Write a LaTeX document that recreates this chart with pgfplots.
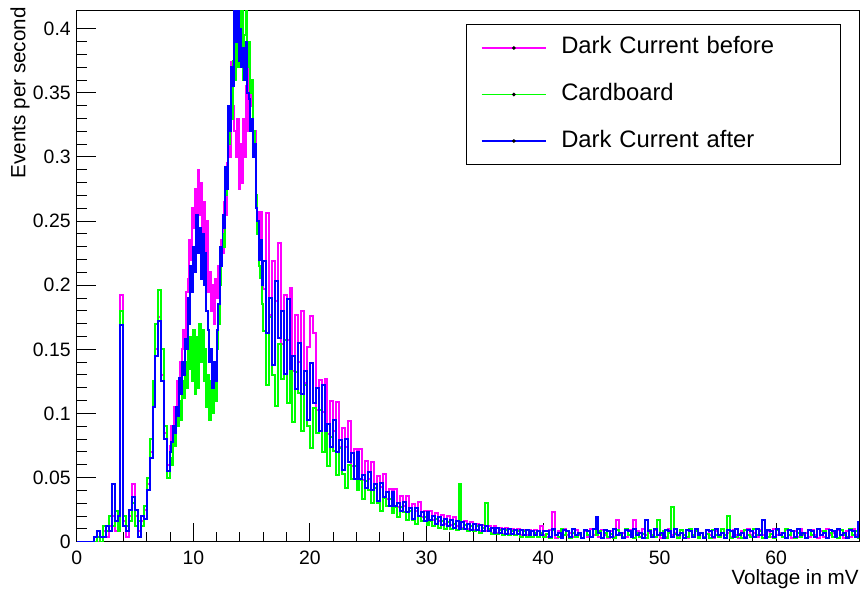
\documentclass[border=0pt]{standalone}
\usepackage{fontspec}
\setmainfont{Liberation Sans}
\usepackage{pgfplots}
\pgfplotsset{compat=1.18}
\usepackage{pgfplotstable}

\definecolor{rootmag}{RGB}{255,0,255}
\definecolor{rootgreen}{RGB}{0,255,0}
\definecolor{rootblue}{RGB}{0,0,255}

% bin left edge (mV), events per second for the three runs
\pgfplotstableread{
x      before card  after
0.00   0     0     0
0.25   0     0     0
0.50   0     0     0
0.75   0     0     0
1.00   0     0     0
1.25   0     0     0
1.50   0     0     0.004
1.75   0     0.004 0.008
2.00   0.004 0     0.004
2.25   0.008 0.012 0.004
2.50   0.004 0.008 0.012
2.75   0.012 0.020 0.008
3.00   0.020 0.012 0.045
3.25   0.008 0.024 0.016
3.50   0.012 0.008 0.020
3.75   0.192 0.180 0.169
4.00   0.016 0.020 0.012
4.25   0.004 0.012 0.008
4.50   0.020 0.016 0.025
4.75   0.045 0.030 0.035
5.00   0.020 0.012 0.025
5.25   0.008 0.016 0.004
5.50   0.016 0.012 0.020
5.75   0.025 0.028 0.018
6.00   0.045 0.050 0.040
6.25   0.070 0.080 0.065
6.50   0.110 0.125 0.105
6.75   0.150 0.170 0.145
7.00   0.175 0.196 0.172
7.25   0.130 0.150 0.125
7.50   0.085 0.090 0.080
7.75   0.060 0.050 0.055
8.000  0.075 0.065 0.070
8.125  0.090 0.060 0.078
8.250  0.085 0.085 0.090
8.375  0.105 0.075 0.085
8.500  0.098 0.100 0.105
8.625  0.125 0.090 0.098
8.750  0.120 0.110 0.128
8.875  0.140 0.095 0.115
9.000  0.150 0.125 0.140
9.125  0.165 0.112 0.130
9.250  0.155 0.140 0.158
9.375  0.195 0.120 0.150
9.500  0.205 0.150 0.190
9.625  0.235 0.135 0.170
9.750  0.220 0.160 0.215
9.875  0.260 0.125 0.195
10.000 0.245 0.165 0.230
10.125 0.275 0.115 0.210
10.250 0.230 0.160 0.255
10.375 0.290 0.120 0.225
10.500 0.255 0.170 0.245
10.625 0.280 0.140 0.205
10.750 0.235 0.165 0.240
10.875 0.265 0.125 0.200
11.000 0.220 0.150 0.225
11.125 0.250 0.105 0.180
11.250 0.195 0.130 0.165
11.375 0.210 0.095 0.140
11.500 0.180 0.125 0.150
11.625 0.200 0.100 0.120
11.750 0.170 0.135 0.140
11.875 0.205 0.110 0.125
12.000 0.190 0.150 0.165
12.125 0.215 0.170 0.185
12.250 0.200 0.200 0.230
12.375 0.235 0.215 0.215
12.500 0.225 0.240 0.255
12.625 0.265 0.230 0.245
12.750 0.255 0.270 0.292
12.875 0.295 0.285 0.275
13.000 0.320 0.310 0.340
13.125 0.300 0.340 0.320
13.250 0.374 0.330 0.370
13.375 0.340 0.375 0.355
13.500 0.320 0.360 0.414
13.625 0.300 0.395 0.390
13.750 0.330 0.370 0.414
13.875 0.275 0.400 0.375
14.000 0.310 0.380 0.400
14.125 0.280 0.414 0.370
14.250 0.330 0.360 0.385
14.375 0.300 0.395 0.360
14.500 0.355 0.414 0.390
14.625 0.320 0.370 0.350
14.750 0.371 0.390 0.345
14.875 0.340 0.350 0.320
15.000 0.360 0.360 0.330
15.125 0.300 0.320 0.300
15.250 0.320 0.300 0.310
15.375 0.270 0.270 0.260
15.500 0.257 0.240 0.250
15.625 0.230 0.215 0.220
15.750 0.257 0.206 0.235
15.875 0.215 0.185 0.200
16.00  0.197 0.164 0.219
16.25  0.256 0.122 0.163
16.50  0.177 0.175 0.190
16.75  0.219 0.130 0.138
17.00  0.188 0.106 0.203
17.25  0.233 0.154 0.159
17.50  0.154 0.127 0.180
17.75  0.192 0.157 0.131
18.00  0.157 0.108 0.189
18.25  0.198 0.133 0.135
18.50  0.133 0.093 0.145
18.75  0.177 0.132 0.119
19.00  0.140 0.116 0.155
19.25  0.180 0.086 0.115
19.50  0.124 0.122 0.133
19.75  0.152 0.090 0.095
20.00  0.176 0.073 0.139
20.25  0.163 0.104 0.108
20.50  0.103 0.085 0.120
20.75  0.126 0.103 0.086
21.00  0.101 0.070 0.122
21.25  0.127 0.085 0.086
21.50  0.084 0.059 0.092
21.75  0.110 0.082 0.074
22.00  0.086 0.071 0.095
22.25  0.109 0.052 0.070
22.50  0.074 0.073 0.079
22.75  0.089 0.053 0.056
23.00  0.074 0.042 0.080
23.25  0.094 0.060 0.062
23.50  0.059 0.049 0.069
23.75  0.072 0.059 0.049
24.00  0.058 0.040 0.070
24.25  0.072 0.048 0.049
24.50  0.048 0.033 0.052
24.75  0.063 0.047 0.042
25.00  0.049 0.040 0.054
25.25  0.062 0.030 0.040
25.50  0.042 0.042 0.045
25.75  0.051 0.030 0.032
26.00  0.043 0.024 0.046
26.25  0.053 0.034 0.035
26.50  0.033 0.028 0.039
26.75  0.041 0.033 0.028
27.00  0.032 0.022 0.039
27.25  0.041 0.027 0.028
27.50  0.027 0.019 0.030
27.75  0.036 0.027 0.024
28.00  0.028 0.023 0.031
28.25  0.036 0.017 0.023
28.50  0.024 0.024 0.026
28.75  0.029 0.017 0.018
29.00  0.024 0.014 0.026
29.25  0.031 0.020 0.020
29.50  0.019 0.016 0.023
29.75  0.024 0.019 0.016
30.00  0.019 0.013 0.023
30.25  0.024 0.016 0.017
30.50  0.017 0.012 0.020
30.75  0.022 0.018 0.014
31.00  0.016 0.011 0.019
31.25  0.021 0.016 0.013
31.50  0.014 0.010 0.018
31.75  0.020 0.015 0.012
32.00  0.013 0.010 0.017
32.25  0.019 0.014 0.011
32.50  0.012 0.009 0.016
32.75  0.017 0.045 0.010
33.00  0.011 0.010 0.015
33.25  0.016 0.013 0.010
33.50  0.010 0.008 0.014
33.75  0.015 0.012 0.009
34.00  0.009 0.008 0.014
34.25  0.014 0.012 0.009
34.50  0.008 0.007 0.013
34.75  0.013 0.011 0.008
35.00  0.008 0.030 0.012
35.25  0.012 0.010 0.008
35.50  0.007 0.006 0.011
35.75  0.012 0.010 0.007
36.00  0.007 0.006 0.011
36.25  0.011 0.009 0.007
36.50  0.006 0.005 0.010
36.75  0.011 0.009 0.006
37.00  0.006 0.005 0.010
37.25  0.010 0.008 0.006
37.50  0.005 0.005 0.009
37.75  0.010 0.008 0.006
38.00  0.005 0.004 0.009
38.25  0.009 0.008 0.005
38.50  0.005 0.004 0.009
38.75  0.009 0.007 0.005
39.00  0.004 0.004 0.008
39.25  0.009 0.007 0.005
39.50  0.004 0.004 0.008
39.75  0.012 0.007 0.005
40.00  0.005 0.004 0.008
40.25  0.004 0.006 0.008
40.50  0.009 0.003 0.004
40.75  0.023 0.009 0.010
41.00  0.003 0.005 0.005
41.25  0.008 0.004 0.007
41.50  0.004 0.010 0.003
41.75  0.010 0.005 0.009
42.00  0.005 0.008 0.008
42.25  0.007 0.003 0.004
42.50  0.004 0.007 0.010
42.75  0.009 0.004 0.005
43.00  0.005 0.006 0.007
43.25  0.003 0.003 0.003
43.50  0.008 0.009 0.009
43.75  0.004 0.005 0.008
44.00  0.010 0.004 0.004
44.25  0.005 0.010 0.010
44.50  0.007 0.005 0.019
44.75  0.004 0.008 0.007
45.00  0.009 0.003 0.003
45.25  0.005 0.007 0.009
45.50  0.003 0.004 0.008
45.75  0.008 0.006 0.004
46.00  0.004 0.003 0.010
46.25  0.017 0.009 0.005
46.50  0.005 0.005 0.007
46.75  0.007 0.004 0.003
47.00  0.004 0.010 0.009
47.25  0.009 0.005 0.008
47.50  0.005 0.008 0.004
47.75  0.017 0.003 0.010
48.00  0.008 0.007 0.005
48.25  0.004 0.004 0.007
48.50  0.010 0.006 0.003
48.75  0.005 0.003 0.017
49.00  0.007 0.009 0.008
49.25  0.004 0.005 0.004
49.50  0.009 0.004 0.010
49.75  0.005 0.017 0.005
50.00  0.003 0.005 0.007
50.25  0.008 0.008 0.003
50.50  0.004 0.003 0.009
50.75  0.010 0.007 0.008
51.00  0.005 0.027 0.004
51.25  0.007 0.006 0.010
51.50  0.004 0.003 0.005
51.75  0.009 0.009 0.007
52.00  0.005 0.005 0.003
52.25  0.003 0.004 0.009
52.50  0.008 0.010 0.008
52.75  0.004 0.005 0.004
53.00  0.010 0.008 0.010
53.25  0.005 0.003 0.005
53.50  0.007 0.007 0.007
53.75  0.004 0.004 0.003
54.00  0.009 0.006 0.009
54.25  0.005 0.003 0.008
54.50  0.003 0.009 0.004
54.75  0.008 0.005 0.010
55.00  0.004 0.004 0.005
55.25  0.010 0.010 0.007
55.50  0.005 0.005 0.003
55.75  0.007 0.020 0.009
56.00  0.004 0.003 0.008
56.25  0.009 0.007 0.004
56.50  0.005 0.004 0.010
56.75  0.003 0.006 0.005
57.00  0.008 0.003 0.007
57.25  0.004 0.009 0.003
57.50  0.010 0.005 0.009
57.75  0.005 0.004 0.008
58.00  0.007 0.010 0.004
58.25  0.004 0.005 0.010
58.50  0.009 0.008 0.005
58.75  0.005 0.003 0.017
59.00  0.003 0.007 0.003
59.25  0.008 0.004 0.009
59.50  0.004 0.006 0.008
59.75  0.010 0.003 0.004
60.00  0.005 0.009 0.010
60.25  0.007 0.005 0.005
60.50  0.004 0.004 0.007
60.75  0.009 0.010 0.003
61.00  0.005 0.005 0.009
61.25  0.003 0.008 0.008
61.50  0.008 0.003 0.004
61.75  0.004 0.007 0.010
62.00  0.010 0.004 0.005
62.25  0.005 0.006 0.007
62.50  0.007 0.003 0.003
62.75  0.004 0.009 0.009
63.00  0.009 0.005 0.008
63.25  0.005 0.004 0.004
63.50  0.003 0.010 0.010
63.75  0.008 0.005 0.005
64.00  0.004 0.008 0.007
64.25  0.010 0.003 0.003
64.50  0.005 0.007 0.009
64.75  0.007 0.004 0.008
65.00  0.004 0.006 0.004
65.25  0.009 0.003 0.010
65.50  0.005 0.009 0.005
65.75  0.003 0.005 0.007
66.00  0.008 0.004 0.003
66.25  0.004 0.010 0.009
66.50  0.010 0.005 0.008
66.75  0.005 0.008 0.004
67.00  0.007 0.003 0.015
67.25  0.004 0.007 0.005
}\spectra

\begin{document}
\begin{tikzpicture}
\useasboundingbox (-38.4pt,-24.7pt) rectangle (393.2pt,270.9pt);
\begin{axis}[
    at={(0,0)}, anchor=south west,
    scale only axis, width=391.2pt, height=265.5pt,
    xmin=0, xmax=67.1, ymin=0, ymax=0.414,
    axis line style={line width=0.5pt},
    tick align=inside, xtick pos=bottom, ytick pos=left,
    xtick={0,10,20,30,40,50,60}, minor x tick num=4,
    ytick={0,0.05,0.1,0.15,0.2,0.25,0.3,0.35,0.4},
    yticklabels={0,0.05,0.1,0.15,0.2,0.25,0.3,0.35,0.4},
    minor y tick num=4,
    major tick length=9.5pt, minor tick length=5pt,
    tick style={black, line width=0.5pt},
    /pgf/number format/assume math mode=true,
    ticklabel style={font=\fontsize{9.7}{11}\selectfont},
    xticklabel style={inner sep=0pt, yshift=-4.5pt},
    yticklabel style={inner sep=0pt, xshift=-2.85pt},
    xlabel={Voltage in mV},
    ylabel={Events per second},
    every axis x label/.style={at={([yshift=-13.6pt]axis description cs:1,0)},
        anchor=north east, inner sep=0pt, font=\fontsize{10.3}{12}\selectfont},
    every axis y label/.style={at={([xshift=-28.35pt,yshift=1.85pt]axis description cs:0,1)},
        rotate=90, anchor=east, inner sep=0pt, font=\fontsize{10.3}{12}\selectfont},
    legend style={at={(rel axis cs:1,1)}, anchor=north east,
        xshift=-9.15pt, yshift=-6.65pt,
        draw=black, line width=0.5pt, fill=white,
        inner xsep=7.2pt, inner ysep=6.1pt, row sep=12.2pt, column sep=7.2pt,
        nodes={inner sep=0pt, text height=8.6pt, text depth=2.5pt},
        font=\fontsize{11.9}{14}\selectfont,
        /tikz/every even column/.append style={text width=132.3pt, align=left}},
    legend image code/.code={
        \draw[#1, line width=0.7pt] (0pt,0pt) -- (32.3pt,0pt);
        \fill[black] (16.15pt,0pt) circle (0.3pt);
    },
]
\addplot[rootmag, line width=1pt, const plot] table[x=x, y=before] {\spectra};
\addlegendentry{Dark Current before}
\addplot[rootgreen, line width=1pt, const plot] table[x=x, y=card] {\spectra};
\addlegendentry{Cardboard}
\addplot[rootblue, line width=1pt, const plot] table[x=x, y=after] {\spectra};
\addlegendentry{Dark Current after}
\end{axis}
\end{tikzpicture}
\end{document}
